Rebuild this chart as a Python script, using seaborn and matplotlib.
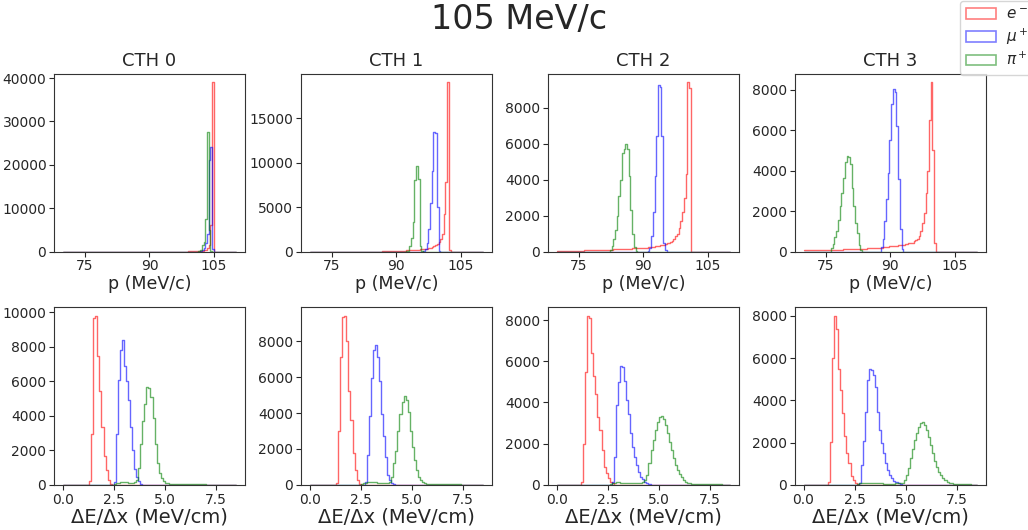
import numpy as np
import pandas as pd
import matplotlib
matplotlib.use("Agg")
import matplotlib.pyplot as plt
from matplotlib.patches import Patch
from matplotlib.ticker import FormatStrFormatter
import seaborn as sns

# ------------------------------------------------------------------ data
suptitle = "105 MeV/c"
titles = ["CTH 0", "CTH 1", "CTH 2", "CTH 3"]
legend_labels = [r"$e^-$", r"$\mu^+$", r"$\pi^+$"]
colors = ["red", "blue", "green"]
p_label = "p (MeV/c)"
dedx_label = "ΔE/Δx (MeV/cm)"
p_ticks = [75, 90, 105]
dedx_ticks = [0.0, 2.5, 5.0, 7.5]

# momentum histograms: bins of 0.4 MeV/c from 69.8 to 110.2
p_bin_lo, p_bin_hi, p_nbins = 69.8, 110.2, 101
# counts per bin, starting at the given left bin edge
p_e0_start = 99.0
p_e0 = [30, 40, 50, 60, 80, 100, 130, 170, 220, 300, 450, 700, 1500, 6000, 39000]
p_mu0_start = 101.8
p_mu0 = [100, 300, 800, 2000, 4000, 21000, 24000, 500]
p_pi0_start = 101.4
p_pi0 = [50, 300, 1500, 2200, 7600, 27500, 5000, 100]

p_e1_start = 86.6
p_e1 = [30, 35, 40, 45, 50, 55, 60, 65, 70, 75,
        80, 90, 100, 110, 120, 130, 145, 160, 175, 190,
        200, 215, 230, 250, 270, 300, 330, 370, 420, 500,
        580, 700, 850, 1050, 1400, 2000, 4200, 7800, 19000, 200]
p_mu1_start = 96.2
p_mu1 = [50, 300, 1000, 2500, 5500, 9000, 13400, 13300, 5000, 100]
p_pi1_start = 92.2
p_pi1 = [50, 100, 600, 1500, 3300, 8000, 9600, 8100, 600, 50]

p_e2_start = 69.8
p_e2 = [30, 30, 35, 35, 40, 40, 40, 45, 45, 45,
        50, 50, 50, 55, 55, 55, 60, 60, 60, 65,
        65, 70, 70, 75, 75, 80, 80, 85, 90, 95,
        100, 105, 110, 115, 120, 125, 130, 135, 140, 145,
        150, 155, 160, 165, 170, 175, 180, 185, 190, 195,
        200, 210, 220, 230, 245, 260, 275, 290, 305, 320,
        340, 360, 380, 400, 450, 500, 550, 600, 700, 850,
        1000, 1300, 1700, 2200, 3000, 4300, 9400, 9100]
p_mu2_start = 91.0
p_mu2 = [50, 200, 870, 2200, 4200, 6400, 9250, 9150, 6400, 500, 100]
p_pi2_start = 82.2
p_pi2 = [80, 300, 700, 1200, 2000, 3100, 4000, 5500, 5700, 6000, 5700, 4200,
         2300, 1000, 250, 50]

p_e3_start = 69.8
p_e3 = [50, 50, 52, 54, 56, 58, 60, 62, 64, 65,
        66, 68, 70, 72, 75, 78, 80, 83, 86, 90,
        92, 95, 98, 100, 103, 106, 110, 113, 116, 120,
        123, 126, 130, 133, 136, 140, 145, 150, 155, 160,
        165, 170, 175, 180, 185, 190, 200, 210, 220, 230,
        250, 260, 270, 280, 290, 300, 310, 320, 340, 360,
        390, 400, 410, 430, 500, 550, 640, 770, 1000, 1400,
        1900, 2900, 4000, 6500, 8350, 5000, 400]
p_mu3_start = 87.8
p_mu3 = [200, 600, 1500, 2600, 3900, 5500, 7300, 8050, 7900, 6200, 3600, 1100, 100]
p_pi3_start = 76.2
p_pi3 = [150, 350, 700, 1000, 1550, 2250, 2900, 3650, 4400, 4700, 4650, 4300,
         3150, 2250, 1400, 900, 300, 80]

# dE/dx histograms: bins of 0.1 MeV/cm from 0 to 8.5
d_bin_lo, d_bin_hi, d_nbins = 0.0, 8.5, 85
d_e0_start = 1.3
d_e0 = [200, 2950, 9650, 9800, 7450, 5450, 3350, 1700, 860, 290, 60, 20]
d_mu0_start = 2.5
d_mu0 = [150, 2950, 6100, 7800, 8400, 6900, 6000, 4900, 3350, 2000, 950, 480, 200, 80]
d_pi0_start = 2.5
d_pi0 = [60, 100, 130, 150, 160, 160, 150, 140, 130, 120, 150,
         300, 1000, 2400, 3700, 4700, 5700, 5600, 5100, 3900, 2400, 1250, 670, 380,
         250, 130, 100, 80, 70, 60,
         55, 50, 48, 46, 44, 42, 40, 38, 36, 34,
         32, 30, 29, 28, 27, 26, 25, 24, 23, 22,
         21, 20, 19, 18, 17, 16, 15, 14, 13, 12]

d_e1_start = 1.3
d_e1 = [100, 3000, 7100, 9350, 9400, 8000, 5200, 3600, 1750, 830, 300, 80]
d_mu1_start = 2.7
d_mu1 = [180, 1650, 3850, 5950, 7500, 7800, 7100, 5800, 3950, 2700, 1550, 550, 280, 130, 50]
d_pi1_start = 2.5
d_pi1 = [50, 90, 120, 140, 150, 150, 145, 140, 130, 120, 110, 100, 100, 120,
         180, 460, 1200, 1900, 3000, 3950, 4600, 4950, 4700, 4050, 3000, 2100,
         1400, 830, 460, 280, 150, 90, 70, 60,
         55, 52, 50, 48, 46, 44, 42, 40, 38, 36,
         34, 32, 30, 28, 26, 24, 22, 20, 18, 16,
         15, 14, 13, 12, 11, 10]

d_e2_start = 1.2
d_e2 = [160, 2000, 5500, 8200, 8100, 6400, 5300, 4400, 3300, 2650, 1700, 880, 560, 320, 160, 80]
d_mu2_start = 2.7
d_mu2 = [160, 1370, 3900, 5000, 5750, 5700, 5050, 4100, 3450, 2500, 1850, 1370, 960,
         640, 400, 270, 160, 80, 40]
d_pi2_start = 2.6
d_pi2 = [60, 90, 110, 120, 120, 115, 110, 100, 95, 90, 85, 80, 80, 85, 90, 100,
         140, 240, 480, 1050, 1700, 2170, 2650, 3050, 3300, 3350, 3200, 2900, 2500,
         2100, 1700, 1300, 960, 720, 510, 370, 240, 160, 110, 80, 65,
         60, 56, 52, 48, 45, 42, 40, 37, 34, 31,
         28, 26, 24, 22, 20, 18, 16, 14]

d_e3_start = 1.2
d_e3 = [160, 2050, 6000, 8000, 7400, 5500, 4500, 3400, 2300, 1500, 1020, 400, 240, 110, 50]
d_mu3_start = 2.7
d_mu3 = [80, 950, 2100, 3450, 4950, 5500, 5450, 5200, 4650, 3450, 2600, 1970, 1500,
         1020, 710, 470, 310, 200, 130, 80, 40]
d_pi3_start = 2.6
d_pi3 = [50, 80, 100, 110, 110, 105, 100, 95, 90, 85, 80, 75, 70, 65, 60, 60, 60, 60,
         65, 70, 80, 90,
         110, 240, 470, 790, 1260, 1690, 2130, 2470, 2760, 2940, 3000, 2830, 2600,
         2280, 1890, 1500, 1150, 870, 630, 460, 315, 220, 160, 110, 80, 60,
         55, 50, 45, 40, 36, 32, 28, 24, 20, 16, 12]

p_hists = [
    [(p_e0_start, p_e0), (p_mu0_start, p_mu0), (p_pi0_start, p_pi0)],
    [(p_e1_start, p_e1), (p_mu1_start, p_mu1), (p_pi1_start, p_pi1)],
    [(p_e2_start, p_e2), (p_mu2_start, p_mu2), (p_pi2_start, p_pi2)],
    [(p_e3_start, p_e3), (p_mu3_start, p_mu3), (p_pi3_start, p_pi3)],
]
d_hists = [
    [(d_e0_start, d_e0), (d_mu0_start, d_mu0), (d_pi0_start, d_pi0)],
    [(d_e1_start, d_e1), (d_mu1_start, d_mu1), (d_pi1_start, d_pi1)],
    [(d_e2_start, d_e2), (d_mu2_start, d_mu2), (d_pi2_start, d_pi2)],
    [(d_e3_start, d_e3), (d_mu3_start, d_mu3), (d_pi3_start, d_pi3)],
]

# ------------------------------------------------------------------ style
sns.set_style("ticks")
plt.rcParams["font.family"] = ["DejaVu Sans"]
plt.rcParams["mathtext.fontset"] = "dejavusans"

fig, axes = plt.subplots(2, 4, figsize=(10.28, 5.30), dpi=100)
fig.subplots_adjust(left=0.0525, right=0.959, bottom=0.085, top=0.8604,
                    wspace=0.293, hspace=0.315)

p_edges = np.linspace(p_bin_lo, p_bin_hi, p_nbins + 1).tolist()
d_edges = np.linspace(d_bin_lo, d_bin_hi, d_nbins + 1).tolist()


def draw_hist(ax, start, counts, edges, color):
    width = edges[1] - edges[0]
    df = pd.DataFrame({
        "value": start + width * (np.arange(len(counts)) + 0.5),
        "count": np.asarray(counts, dtype=float),
    })
    sns.histplot(data=df, x="value", weights="count", bins=edges, element="step",
                 fill=False, color=color, alpha=0.6, linewidth=1.0, ax=ax)


for col in range(4):
    ax = axes[0, col]
    for (start, counts), c in zip(p_hists[col], colors):
        draw_hist(ax, start, counts, p_edges, c)
    pad = 0.05 * (p_bin_hi - p_bin_lo)
    ax.set_xlim(p_bin_lo - pad, p_bin_hi + pad)
    ax.set_ylim(bottom=0)
    ax.set_xticks(p_ticks)
    ax.set_title(titles[col], fontsize=13)
    ax.set_xlabel(p_label, fontsize=12.5, labelpad=1)
    ax.set_ylabel("")

    ax = axes[1, col]
    for (start, counts), c in zip(d_hists[col], colors):
        draw_hist(ax, start, counts, d_edges, c)
    pad = 0.05 * (d_bin_hi - d_bin_lo)
    ax.set_xlim(d_bin_lo - pad, d_bin_hi + pad)
    ax.set_ylim(bottom=0)
    ax.set_xticks(dedx_ticks)
    ax.xaxis.set_major_formatter(FormatStrFormatter("%.1f"))
    ax.set_xlabel(dedx_label, fontsize=14, labelpad=1)
    ax.set_ylabel("")

for ax in axes.flat:
    ax.tick_params(labelsize=10, length=3.5, pad=2)
    for s in ax.spines.values():
        s.set_linewidth(0.8)
        s.set_color("#333333")

handles = [Patch(facecolor="none", edgecolor=c, alpha=0.5, linewidth=1.2) for c in colors]
fig.legend(handles, legend_labels, loc="upper right", bbox_to_anchor=(1.006, 0.999),
           fontsize=11, frameon=True, labelspacing=0.3, borderaxespad=0.0,
           handletextpad=0.6, borderpad=0.4)
fig.suptitle(suptitle, fontsize=24, x=0.505, y=0.995)

fig.savefig("out.png", dpi=100)
